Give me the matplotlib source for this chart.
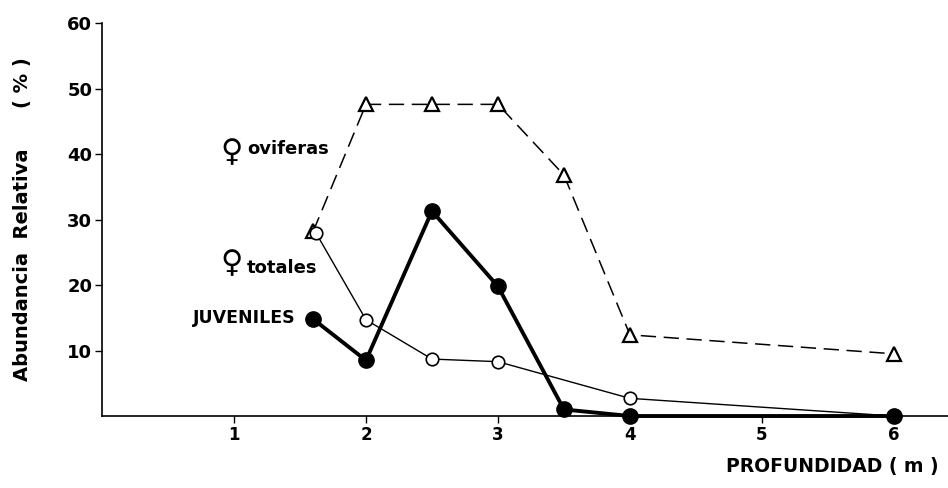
import matplotlib
matplotlib.use("Agg")
import matplotlib.pyplot as plt

# Depth (m) and relative abundance (%) per group
depth_ovig = [1.6, 2.0, 2.5, 3.0, 3.5, 4.0, 6.0]
ovigeras = [28.2, 47.6, 47.6, 47.6, 36.8, 12.4, 9.5]

depth_tot = [1.62, 2.0, 2.5, 3.0, 4.0, 6.0]
totales = [28.0, 14.7, 8.7, 8.3, 2.7, 0.0]

depth_juv = [1.6, 2.0, 2.5, 3.0, 3.5, 4.0, 6.0]
juveniles = [14.8, 8.5, 31.3, 19.8, 1.0, 0.0, 0.0]

x_ticks = [1, 2, 3, 4, 5, 6]
y_ticks = [10, 20, 30, 40, 50, 60]

plt.rcParams['font.family'] = ['DejaVu Sans']

fig = plt.figure(figsize=(9.48, 4.88), dpi=100)
ax = fig.add_axes([0.1076, 0.1475, 0.8924, 0.805])

ax.plot(depth_ovig, ovigeras, color='black', lw=1.1, ls=(0, (10, 5)),
        marker='^', ms=10, mfc='white', mec='black', mew=1.6, clip_on=False)
ax.plot(depth_tot, totales, color='black', lw=1.0,
        marker='o', ms=9, mfc='white', mec='black', mew=1.2, clip_on=False)
ax.plot(depth_juv, juveniles, color='black', lw=2.8,
        marker='o', ms=11, mfc='black', mec='black', clip_on=False)

ax.set_xlim(0, 6.41)
ax.set_ylim(0, 60)
ax.set_xticks(x_ticks)
ax.set_yticks(y_ticks)
ax.set_xticklabels([str(v) for v in x_ticks], fontsize=12, fontweight='bold')
ax.set_yticklabels([str(v) for v in y_ticks], fontsize=13, fontweight='bold')
ax.tick_params(direction='out', length=5, width=1, pad=2)

for side in ('top', 'right'):
    ax.spines[side].set_visible(False)
for side in ('left', 'bottom'):
    ax.spines[side].set_linewidth(1.2)

ax.text(0.9, 40.3, '♀', fontsize=22, fontweight='bold', ha='left', va='center')
ax.text(1.1, 40.8, 'oviferas', fontsize=13, fontweight='bold', ha='left', va='center')
ax.text(0.9, 23.3, '♀', fontsize=22, fontweight='bold', ha='left', va='center')
ax.text(1.1, 22.6, 'totales', fontsize=13, fontweight='bold', ha='left', va='center')
ax.text(1.47, 14.9, 'JUVENILES', fontsize=12.5, fontweight='bold', ha='right', va='center')

fig.text(0.99, 0.025, 'PROFUNDIDAD ( m )', fontsize=13.5, fontweight='bold',
         ha='right', va='bottom')
fig.text(0.024, 0.55, 'Abundancia  Relativa      ( % )', fontsize=14,
         fontweight='bold', rotation=90, ha='center', va='center')

fig.savefig('out.png', dpi=100)
